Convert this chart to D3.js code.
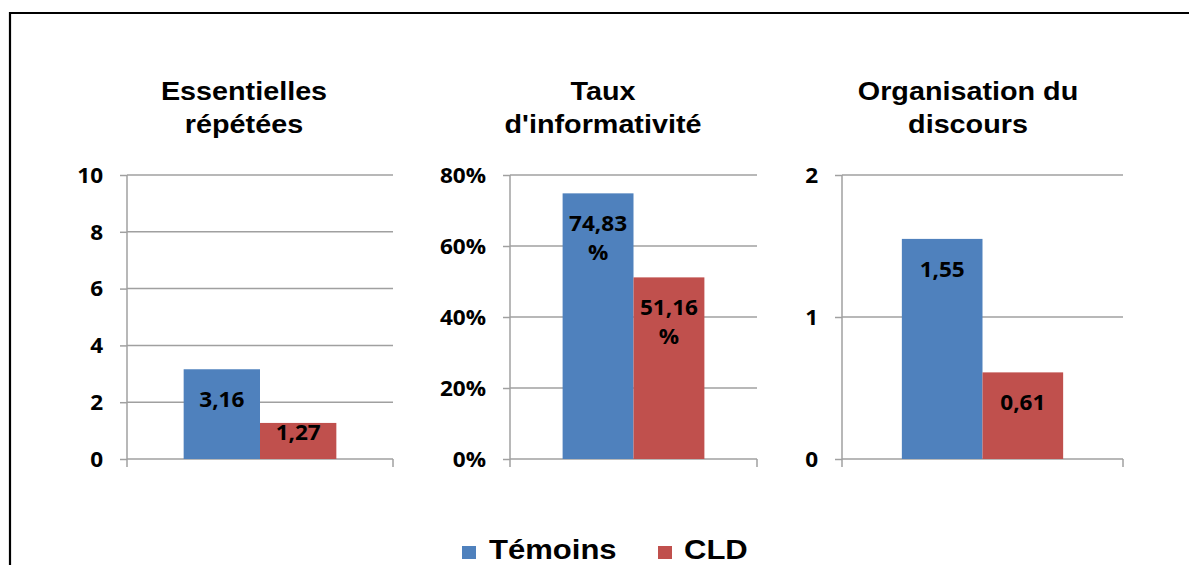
<!DOCTYPE html>
<html>
<head>
<meta charset="utf-8">
<script src="https://cdn.jsdelivr.net/npm/d3@7"></script>
<style>
  html, body { margin: 0; padding: 0; background: #fff; }
  svg { display: block; }
</style>
</head>
<body>
<svg id="chart" width="1189" height="565"></svg>
<script>
// ---- data ----
const panelTitles = [["Essentielles", "répétées"], ["Taux", "d'informativité"], ["Organisation du", "discours"]];
const seriesNames = ["Témoins", "CLD"];
const temoinsValues = [3.16, 0.7483, 1.55];
const cldValues = [1.27, 0.5116, 0.61];
const yMaxValues = [10, 0.8, 2];
const yTickValues = [[0, 2, 4, 6, 8, 10], [0, 0.2, 0.4, 0.6, 0.8], [0, 1, 2]];
const isPercent = [false, true, false];

// ---- layout / style ----
const colors = { "Témoins": "#4F81BD", "CLD": "#C0504D" };
const panels = [
  { x0: 127, x1: 393, titleX: 244 },
  { x0: 510, x1: 757, titleX: 603 },
  { x0: 842, x1: 1123, titleX: 968 }
];
const yTop = 175, yBase = 459;
const gridColor = "#a0a0a0";
const sansFont = "'Liberation Sans', Arial, sans-serif";
const numFont = "'Open Sans', sans-serif";

const svg = d3.select("#chart");

// outer border
svg.append("path")
  .attr("d", "M10,570 L10,13 L1195,13")
  .attr("fill", "none").attr("stroke", "#000").attr("stroke-width", 2.2);

function stext(parent, x, y, str, opts) {
  const sx = opts.sx || 1.15;
  const g = parent.append("g").attr("transform", `translate(${x},${y}) scale(${sx},1)`);
  const t = g.append("text")
    .attr("x", 0).attr("y", 0)
    .attr("text-anchor", opts.anchor || "middle")
    .attr("font-family", opts.family)
    .attr("font-weight", "bold")
    .attr("font-size", opts.size)
    .attr("fill", "#000")
    .text(str);
  return t;
}

function fmtLabel(v, pct) {
  if (pct) return [d3.format(".2f")(v * 100).replace(".", ","), "%"];
  return [d3.format(".2f")(v).replace(".", ",")];
}

const NSX = 1.1, NSIZE = 20.5;

panels.forEach((p, i) => {
  const g = svg.append("g");
  const y = d3.scaleLinear().domain([0, yMaxValues[i]]).range([yBase, yTop]);
  const w = p.x1 - p.x0;
  const xCat = d3.scaleBand().domain(seriesNames)
    .range([p.x0 + w * 0.213, p.x1 - w * 0.213]).paddingInner(0).paddingOuter(0);

  // title
  panelTitles[i].forEach((line, k) => {
    stext(g, p.titleX, 100 + k * 33, line, { family: sansFont, size: 25, sx: 1.15 });
  });

  // gridlines
  g.append("g").selectAll("line").data(yTickValues[i]).join("line")
    .attr("x1", p.x0).attr("x2", p.x1)
    .attr("y1", d => y(d)).attr("y2", d => y(d))
    .attr("stroke", gridColor).attr("stroke-width", 1.5);

  // y axis
  const tickFmt = isPercent[i] ? d3.format(".0%") : d3.format("d");
  const ax = g.append("g").attr("transform", `translate(${p.x0},0)`)
    .call(d3.axisLeft(y).tickValues(yTickValues[i]).tickFormat(tickFmt).tickSizeInner(7).tickSizeOuter(0).tickPadding(24));
  ax.select(".domain").remove();
  ax.selectAll(".tick line").attr("stroke", gridColor).attr("stroke-width", 1.5);
  ax.selectAll(".tick text")
    .attr("x", -24 / NSX)
    .attr("dy", "0.36em")
    .attr("transform", `scale(${NSX},1)`)
    .attr("font-family", numFont)
    .attr("font-weight", "bold")
    .attr("font-size", NSIZE)
    .attr("fill", "#000");
  // vertical axis line (extends below baseline)
  g.append("line").attr("x1", p.x0).attr("x2", p.x0).attr("y1", yTop).attr("y2", yBase + 8)
    .attr("stroke", gridColor).attr("stroke-width", 1.5);
  // category edge tick at right
  g.append("line").attr("x1", p.x1).attr("x2", p.x1).attr("y1", yBase).attr("y2", yBase + 8)
    .attr("stroke", gridColor).attr("stroke-width", 1.5);

  // bars
  const vals = [temoinsValues[i], cldValues[i]];
  const data = seriesNames.map((s, k) => ({ s, v: vals[k] }));
  g.append("g").selectAll("rect").data(data).join("rect")
    .attr("x", d => xCat(d.s))
    .attr("width", xCat.bandwidth())
    .attr("y", d => y(d.v))
    .attr("height", d => yBase - y(d.v))
    .attr("fill", d => colors[d.s]);

  // data labels
  data.forEach(d => {
    const lines = fmtLabel(d.v, isPercent[i]);
    const top = y(d.v);
    let base = top + 38;
    if (base > yBase - 19) base = yBase - 19;
    lines.forEach((ln, k) => {
      stext(g, xCat(d.s) + xCat.bandwidth() / 2, base + k * 29, ln, { family: numFont, size: NSIZE, sx: NSX });
    });
  });
});

// legend
const legendItems = [
  { name: seriesNames[0], sq: 462, tx: 489 },
  { name: seriesNames[1], sq: 658, tx: 684 }
];
const lg = svg.append("g");
legendItems.forEach(it => {
  lg.append("rect").attr("x", it.sq).attr("y", 546).attr("width", 14).attr("height", 13)
    .attr("fill", colors[it.name]);
  stext(lg, it.tx, 559, it.name, { family: sansFont, size: 27, sx: 1.15, anchor: "start" });
});
</script>
</body>
</html>
